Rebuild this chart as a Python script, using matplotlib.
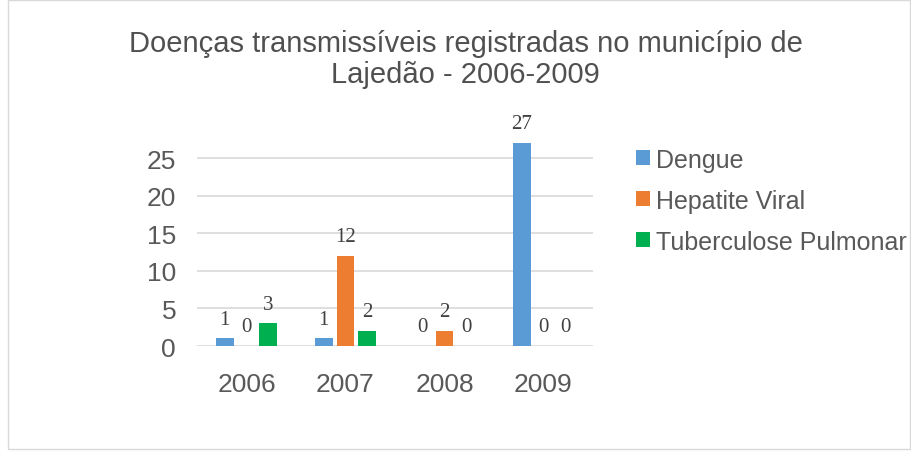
import matplotlib.pyplot as plt
from matplotlib.patches import Rectangle
import numpy as np

anos = ['2006', '2007', '2008', '2009']
dengue = [1, 1, 0, 27]
hepatite = [0, 12, 2, 0]
tuberculose = [3, 2, 0, 0]
series = ['Dengue', 'Hepatite Viral', 'Tuberculose Pulmonar']
cores = ['#5b9bd5', '#ed7d31', '#00b050']

plt.rcParams['font.family'] = ['Liberation Sans', 'DejaVu Sans']

fig = plt.figure(figsize=(9.11, 4.52), dpi=100)
fig.patches.append(Rectangle((0.009, 0.004), 0.99, 0.994, transform=fig.transFigure,
                             fill=False, edgecolor='#d9d9d9', linewidth=1))
ax = fig.add_axes([0.2162, 0.2323, 0.4347, 0.4575])

x = np.arange(len(anos))
largura = 0.18
desloc = 0.22
for i, (nome, vals, cor) in enumerate(zip(series, [dengue, hepatite, tuberculose], cores)):
    pos = x + (i - 1) * desloc
    ax.bar(pos, vals, largura, color=cor, label=nome, zorder=3, clip_on=False)
    for p, v in zip(pos, vals):
        ax.annotate(str(v), (p, v), xytext=(0, 7), textcoords='offset points',
                    ha='center', va='bottom', fontsize=15, color='#404040',
                    family=['Liberation Serif', 'DejaVu Serif'], annotation_clip=False)

ax.set_xlim(-0.5, 3.5)
ax.set_ylim(0, 27.5)
ax.set_yticks([0, 5, 10, 15, 20, 25])
ax.set_xticks(x)
ax.set_xticklabels(anos)
ax.tick_params(axis='both', length=0, labelsize=19, colors='#595959')
ax.tick_params(axis='x', pad=19)
ax.tick_params(axis='y', pad=15)
for s in ax.spines.values():
    s.set_visible(False)
ax.yaxis.grid(True, color='#d9d9d9', linewidth=1.2, zorder=0)
ax.set_axisbelow(True)

fig.text(0.511, 0.868, 'Doenças transmissíveis registradas no município de\nLajedão - 2006-2009',
         ha='center', va='center', fontsize=21, color='#505050', linespacing=1.15)

fig.legend(loc='upper left', bbox_to_anchor=(0.698, 0.671), frameon=False, fontsize=18,
           handlelength=0.55, handleheight=0.55, handletextpad=0.25, labelspacing=0.68,
           labelcolor='#595959', borderaxespad=0, borderpad=0)

fig.savefig('out.png', dpi=100)
